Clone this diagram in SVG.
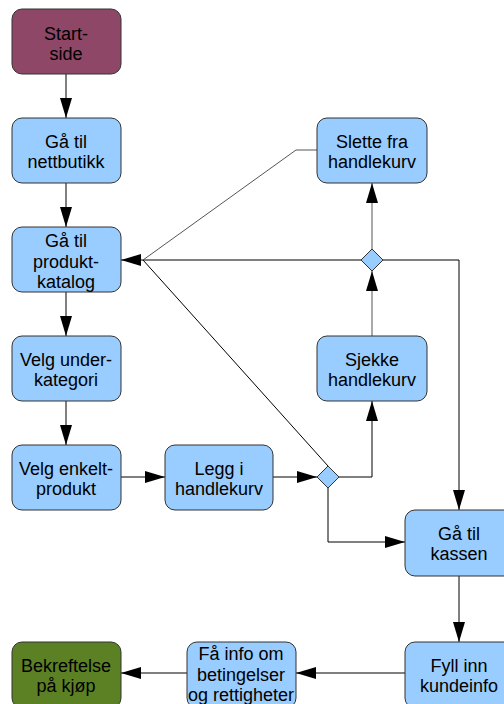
<svg xmlns="http://www.w3.org/2000/svg" width="504" height="704" viewBox="0 0 504 704">
<defs>
<style>
.n rect{fill:#99ccff;stroke:#333;stroke-width:1}
.n.start rect{fill:#8e4767}
.n.end rect{fill:#5c8124}
.n text{font-family:"Liberation Sans",Arial,sans-serif;font-size:18px;fill:#000;text-anchor:middle}
.d{fill:#99ccff;stroke:#333;stroke-width:1}
.c path{fill:none;stroke:#000;stroke-width:1}
.c path.g{stroke:#555}
</style>
<marker id="ah" viewBox="0 0 20 12" refX="20" refY="6" markerWidth="20" markerHeight="12" markerUnits="userSpaceOnUse" orient="auto">
<path d="M0,0 L20,6 L0,12 Z" fill="#000"/>
</marker>
</defs>
<rect width="504" height="704" fill="#fff"/>
<g id="connectors" class="c">
<path d="M66,74 V118" marker-end="url(#ah)"/>
<path d="M66,183 V227" marker-end="url(#ah)"/>
<path d="M66,292 V336" marker-end="url(#ah)"/>
<path d="M66,401 V445" marker-end="url(#ah)"/>
<path d="M121,477 H165" marker-end="url(#ah)"/>
<path d="M273,477 H317" marker-end="url(#ah)"/>
<path d="M339,477 H372 V401" marker-end="url(#ah)"/>
<path class="g" d="M372,336 V271" marker-end="url(#ah)"/>
<path class="g" d="M372,249 V183" marker-end="url(#ah)"/>
<path d="M361,260 H143"/>
<path d="M143,260 H121" marker-end="url(#ah)"/>
<path class="g" d="M317,150 H296 L143,260"/>
<path d="M328,466 L143,260"/>
<path d="M383,260 H459 V510" marker-end="url(#ah)"/>
<path d="M328,488 V542 H405" marker-end="url(#ah)"/>
<path d="M459,576 V642" marker-end="url(#ah)"/>
<path d="M405,673 H296" marker-end="url(#ah)"/>
<path d="M187,673 H121" marker-end="url(#ah)"/>
</g>
<g id="start" class="n start"><rect x="12" y="9" width="109" height="65" rx="10"/><text x="66" y="40">Start-</text><text x="66" y="60">side</text></g>
<g id="nettbutikk" class="n"><rect x="12" y="118" width="109" height="65" rx="10"/><text x="66" y="148">Gå til</text><text x="66" y="168">nettbutikk</text></g>
<g id="produktkatalog" class="n"><rect x="12" y="227" width="109" height="65" rx="10"/><text x="66" y="247">Gå til</text><text x="66" y="268">produkt-</text><text x="66" y="288">katalog</text></g>
<g id="underkategori" class="n"><rect x="12" y="336" width="109" height="65" rx="10"/><text x="66" y="366">Velg under-</text><text x="66" y="386">kategori</text></g>
<g id="enkeltprodukt" class="n"><rect x="12" y="445" width="109" height="65" rx="10"/><text x="66" y="475">Velg enkelt-</text><text x="66" y="495">produkt</text></g>
<g id="legg" class="n"><rect x="165" y="445" width="108" height="65" rx="10"/><text x="219" y="475">Legg i</text><text x="219" y="495">handlekurv</text></g>
<g id="sjekke" class="n"><rect x="317" y="336" width="110" height="65" rx="10"/><text x="372" y="366">Sjekke</text><text x="372" y="386">handlekurv</text></g>
<g id="slette" class="n"><rect x="317" y="118" width="110" height="65" rx="10"/><text x="372" y="148">Slette fra</text><text x="372" y="168">handlekurv</text></g>
<g id="kassen" class="n"><rect x="405" y="510" width="109" height="66" rx="10"/><text x="459" y="540">Gå til</text><text x="459" y="560">kassen</text></g>
<g id="kundeinfo" class="n"><rect x="405" y="642" width="109" height="66" rx="10"/><text x="459" y="672">Fyll inn</text><text x="459" y="692">kundeinfo</text></g>
<g id="betingelser" class="n"><rect x="187" y="642" width="109" height="66" rx="10"/><text x="241" y="660">Få info om</text><text x="241" y="681">betingelser</text><text x="241" y="701">og rettigheter</text></g>
<g id="bekreftelse" class="n end"><rect x="12" y="642" width="109" height="66" rx="10"/><text x="66" y="672">Bekreftelse</text><text x="66" y="692">på kjøp</text></g>
<g id="decision1"><path class="d" d="M372,249 L383,260 L372,271 L361,260 Z"/></g>
<g id="decision2"><path class="d" d="M328,466 L339,477 L328,488 L317,477 Z"/></g>
</svg>
